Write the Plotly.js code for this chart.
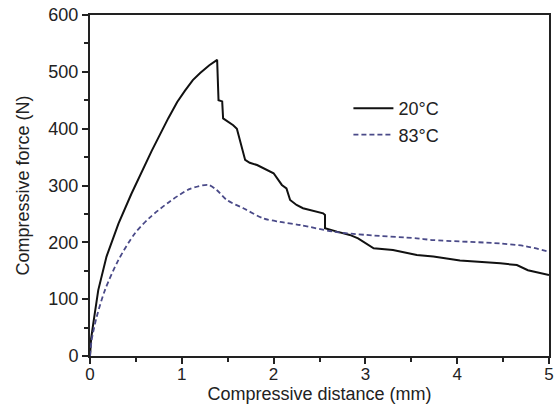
<!DOCTYPE html>
<html><head><meta charset="utf-8">
<script src="https://cdn.plot.ly/plotly-3.0.1.min.js"></script>
<style>html,body{margin:0;padding:0;background:#fff}#chart{width:555px;height:404px}</style>
</head><body><div id="chart"></div>
<script>
// 20°C series
const x20 = [0, 0.012, 0.036, 0.09, 0.18, 0.31, 0.45, 0.55, 0.672, 0.853, 0.95, 1.035, 1.12, 1.2, 1.3, 1.385, 1.40, 1.44, 1.45, 1.56, 1.60, 1.69, 1.74, 1.82, 2.0, 2.09, 2.14, 2.18, 2.25, 2.32, 2.54, 2.56, 2.56, 2.69, 2.83, 2.92, 3.01, 3.09, 3.30, 3.56, 3.74, 4.03, 4.47, 4.65, 4.77, 4.85, 5.0];
const y20 = [0, 30, 57.5, 116, 175, 233, 285, 320.5, 361, 418.5, 447, 467, 485.5, 498, 511.5, 521, 450, 448, 418, 406, 400, 345, 340, 336, 321.5, 301, 295, 274.5, 265.7, 260, 251, 248, 224.7, 218.8, 213, 207, 198, 189.5, 186.5, 177.7, 175, 168, 163, 160, 151, 148, 142.5];
// 83°C series
const x83 = [0, 0.018, 0.073, 0.163, 0.31, 0.49, 0.654, 0.87, 1.09, 1.29, 1.38, 1.49, 1.67, 1.89, 2.07, 2.29, 2.65, 3.01, 3.56, 3.74, 4.47, 4.75, 5.0];
const y83 = [0, 28, 69, 116, 169, 216, 244, 272, 294, 301, 292, 274.5, 260, 242, 236, 230.5, 218.8, 213, 207, 204, 198, 193, 183.5];
const names = ['20°C', '83°C'];
const xTicks = [0, 1, 2, 3, 4, 5];
const yTicks = [0, 100, 200, 300, 400, 500, 600];

const font = {family: 'Liberation Sans, Arial, sans-serif', size: 18, color: '#222'};
const tickFontX = {family: 'Liberation Sans, Arial, sans-serif', size: 17, color: '#222'};
const traces = [
  {x: x20, y: y20, name: names[0], mode: 'lines', line: {color: '#111', width: 2}},
  {x: x83, y: y83, name: names[1], mode: 'lines', line: {color: '#4a4a88', width: 1.8, dash: '5px,3px', shape: 'spline', smoothing: 0.8}}
];
const axisCommon = {
  showline: true, linecolor: '#222', linewidth: 2, mirror: true,
  ticks: 'outside', ticklen: 6, tickwidth: 2, tickcolor: '#222',
  showgrid: false, zeroline: false, tickfont: font, automargin: false
};
const layout = {
  width: 555, height: 404,
  margin: {l: 90, r: 6, t: 15, b: 48},
  paper_bgcolor: '#fff', plot_bgcolor: '#fff',
  font: font,
  showlegend: true,
  legend: {x: 0.563, y: 0.78, xanchor: 'left', yanchor: 'top', bgcolor: 'rgba(0,0,0,0)', font: font, tracegroupgap: 0, itemwidth: 40},
  xaxis: Object.assign({}, axisCommon, {
    range: [0, 5], tickvals: xTicks, ticktext: xTicks.map(String), tickfont: tickFontX,
    ticklabelstandoff: -4,
    minor: {dtick: 0.5, tick0: 0, ticks: 'outside', ticklen: 4, tickwidth: 2, tickcolor: '#222'},
    title: {text: 'Compressive distance (mm)', font: font, standoff: 1}
  }),
  yaxis: Object.assign({}, axisCommon, {
    range: [0, 600], tickvals: yTicks, ticktext: yTicks.map(String),
    minor: {dtick: 50, tick0: 0, ticks: 'outside', ticklen: 4, tickwidth: 2, tickcolor: '#222'},
    title: {text: 'Compressive force (N)', font: font, standoff: 14}
  })
};
Plotly.newPlot('chart', traces, layout, {staticPlot: true, displayModeBar: false});
</script>
</body></html>
